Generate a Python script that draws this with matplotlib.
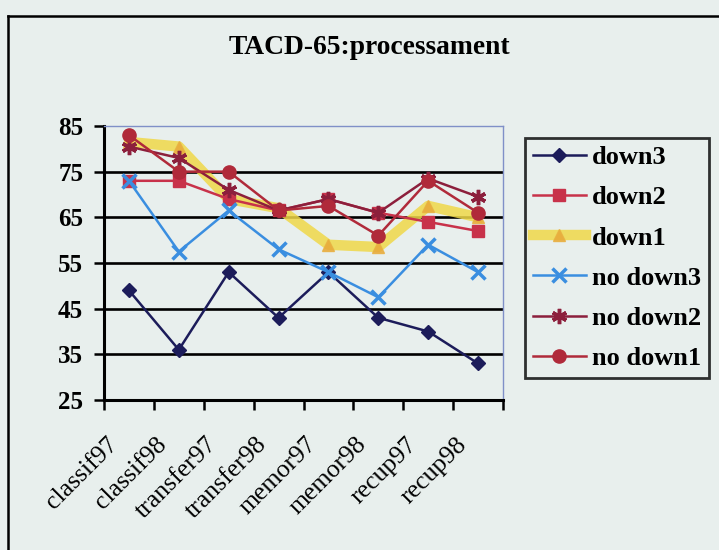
import matplotlib.pyplot as plt
import matplotlib.transforms as mtransforms
from matplotlib.lines import Line2D
import numpy as np

# dades llegides del gràfic
categories = ['classif97', 'classif98', 'transfer97', 'transfer98',
              'memor97', 'memor98', 'recup97', 'recup98']
down3 = [49, 36, 53, 43, 53, 43, 40, 33]
down2 = [73, 73, 69, 66.5, 69, 66, 64, 62]
down1 = [81.5, 80.5, 69, 67, 59, 58.5, 67.5, 65]
no_down3 = [73, 57.5, 66.5, 58, 53, 47.5, 59, 53]
no_down2 = [80.5, 78, 71, 66.5, 69, 66, 73.5, 69.5]
no_down1 = [83, 75, 75, 66.5, 67.5, 61, 73, 66]
y_ticks = [25, 35, 45, 55, 65, 75, 85]

bg = '#e8efed'
plt.rcParams['font.family'] = ['Liberation Serif', 'DejaVu Serif']

W, H = 719, 550
fig = plt.figure(figsize=(W / 100, H / 100), dpi=100, facecolor=bg)
ax = fig.add_axes([104 / W, 1 - 400 / H, (503 - 104) / W, (400 - 126) / H])
ax.set_facecolor(bg)

x = np.arange(len(categories)) + 0.5

# gridlines
for v in y_ticks[1:-1]:
    ax.axhline(v, color='black', lw=1.9, zorder=1)

ax.plot(x, down3, color='#1c1c5a', marker='D', ms=7.5, lw=1.8, label='down3', zorder=3)
ax.plot(x, down2, color='#c8324a', marker='s', ms=8.5, lw=1.8, label='down2', zorder=3)
ax.plot(x, down1, color='#f0d848', lw=7.5, alpha=0.85, solid_joinstyle='round',
        marker='^', ms=9, mfc='#e8a838', mec='#e8b040', label='down1', zorder=2)
ax.plot(x, no_down3, color='#3a8ee0', marker='x', ms=10, mew=2.5, lw=1.8,
        label='no down3', zorder=4)
ax.plot(x, no_down2, color='#8c1f3c', marker=(6, 2, 0), ms=11, mew=2.5, lw=1.8,
        label='no down2', zorder=4)
ax.plot(x, no_down1, color='#b02a3a', marker='o', ms=9.5, lw=1.8,
        label='no down1', zorder=4)

ax.set_xlim(0, len(categories))
ax.set_ylim(25, 85)
ax.set_yticks(y_ticks)
ax.set_yticklabels([str(v) for v in y_ticks], fontsize=18, fontweight='bold')
ax.tick_params(axis='y', length=7, width=1.8, pad=8, color='black')

ax.set_xticks(x)
ax.set_xticklabels(categories, fontsize=18.5, rotation=45, ha='right',
                   va='center', rotation_mode='anchor')
ax.tick_params(axis='x', length=0, pad=0)
ax.set_xticks(np.arange(len(categories) + 1), minor=True)
ax.tick_params(axis='x', which='minor', length=7, width=1.8, color='black')
off = mtransforms.ScaledTranslation(-15 / 100, -41 / 100, fig.dpi_scale_trans)
for lab in ax.get_xticklabels():
    lab.set_transform(lab.get_transform() + off)

for s in ['left', 'bottom']:
    ax.spines[s].set_linewidth(2.2)
    ax.spines[s].set_color('black')
for s in ['top', 'right']:
    ax.spines[s].set_linewidth(1)
    ax.spines[s].set_color('#8090c8')

fig.text(369 / W, 1 - 48 / H, 'TACD-65:processament', ha='center', va='center',
         fontsize=19.8, fontweight='bold')

leg = fig.legend(loc='upper left', bbox_to_anchor=(525 / W, 1 - 138 / H),
                 borderaxespad=0, frameon=True, fancybox=False,
                 prop={'size': 19, 'weight': 'bold'}, handlelength=2.0,
                 labelspacing=0.63, handletextpad=0.25, borderpad=0.3)
leg.get_frame().set_edgecolor('black')
leg.get_frame().set_linewidth(2)
leg.get_frame().set_facecolor(bg)

# marc del gràfic
fig.add_artist(Line2D([8 / W, 1], [1 - 16 / H, 1 - 16 / H], color='black', lw=1.8))
fig.add_artist(Line2D([8 / W, 8 / W], [0, 1 - 16 / H], color='black', lw=1.8))

fig.savefig('out.png', dpi=100, facecolor=bg)
